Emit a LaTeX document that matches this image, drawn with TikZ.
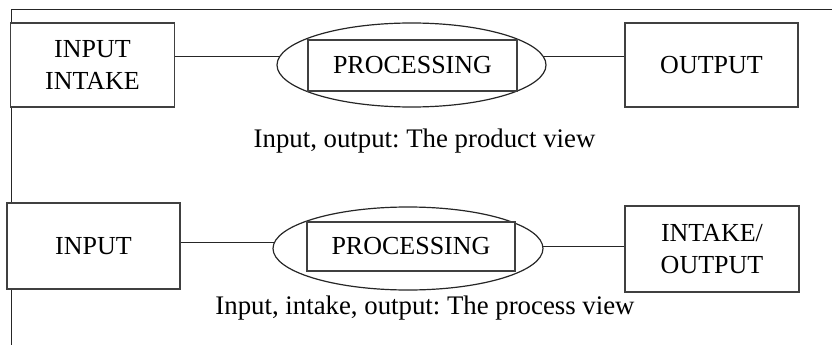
\documentclass[tikz,border=0pt]{standalone}
\usepackage{fontspec}
\setmainfont{Liberation Serif}
\usetikzlibrary{shapes.geometric,backgrounds}

\begin{document}
\frenchspacing
\begin{tikzpicture}[x=1pt,y=-1pt,line width=1.2pt,
    every node/.style={font=\fontsize{26}{32}\selectfont},
    block/.style={draw=black!75,fill=white,rectangle,align=center,inner sep=0pt},
    oval/.style={draw=black!85,fill=white,ellipse,inner sep=0pt},
    caption/.style={anchor=base,inner sep=0pt,font=\fontsize{26.8}{32}\selectfont}]
            \useasboundingbox (0,0) rectangle (832,345);

            % frame
            \draw[black!85,line width=1pt] (832,10) -- (11,10) -- (11,345);

            % product view
            \node[block,minimum width=164,minimum height=84] (in1) at (92.5,65) {INPUT\\INTAKE};
            \node[oval,minimum width=269,minimum height=84]  (ell1) at (411.5,65) {};
            \node[block,minimum width=209,minimum height=51] (proc1) at (412.5,65.5) {PROCESSING};
            \node[block,minimum width=173,minimum height=84] (out1) at (711.5,65) {OUTPUT};
            \node[caption] (cap1) at (424.5,147) {Input, output: The product view};

            % process view
            \node[block,minimum width=173,minimum height=86] (in2) at (93.5,246) {INPUT};
            \node[oval,minimum width=270,minimum height=83]  (ell2) at (408,248.5) {};
            \node[block,minimum width=208,minimum height=49] (proc2) at (411,246.5) {PROCESSING};
            \node[block,minimum width=174,minimum height=86] (out2) at (712,249) {INTAKE/\\OUTPUT};
            \node[caption] (cap2) at (425,314) {Input, intake, output: The process view};

            % links run under the ellipses
            \begin{pgfonlayer}{background}
            \path[draw=black!85,line width=1pt]
                ([yshift=8pt]in1.east) edge ([yshift=8pt]ell1.center)
                ([yshift=8pt]ell1.center) edge ([yshift=8pt]out1.west)
                ([yshift=4pt]in2.east) edge ([yshift=6.5pt]ell2.center)
                ([yshift=2.5pt]ell2.center) edge ([yshift=3pt]out2.west)
                ;
            \end{pgfonlayer}
        \end{tikzpicture}
\end{document}
